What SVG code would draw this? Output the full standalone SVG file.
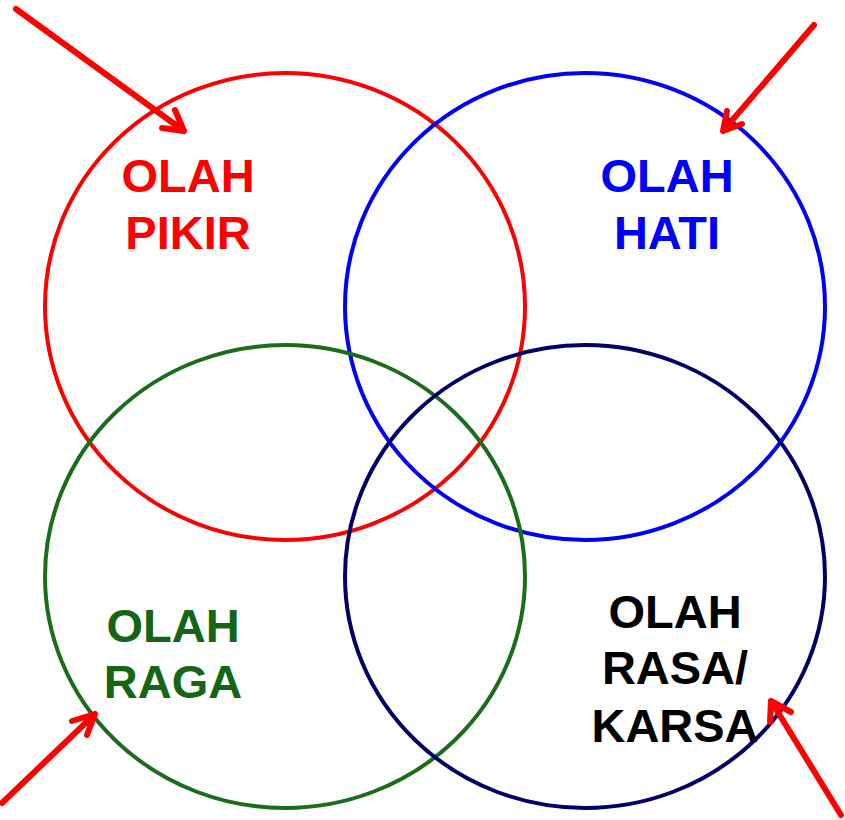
<svg xmlns="http://www.w3.org/2000/svg" width="845" height="820" viewBox="0 0 845 820">
<style>
.c{fill:none;stroke-width:4}
.t{font-family:"Liberation Sans",Arial,sans-serif;font-weight:bold;font-size:47px;text-anchor:middle}
.a{fill:none;stroke:#ff0000;stroke-width:6;stroke-linecap:round;stroke-linejoin:round}
</style>
<rect width="845" height="820" fill="#fff"/>
<g id="pikir">
<ellipse class="c" cx="285" cy="306.5" rx="240" ry="233.5" stroke="#ff0000"/>
<text class="t" fill="#ff0000"><tspan x="188" y="192">OLAH</tspan><tspan x="188" y="249">PIKIR</tspan></text>
</g>
<g id="hati">
<ellipse class="c" cx="585" cy="306.5" rx="240" ry="233.5" stroke="#0000ff"/>
<text class="t" fill="#0000ff"><tspan x="667" y="192">OLAH</tspan><tspan x="667" y="249">HATI</tspan></text>
</g>
<g id="raga">
<ellipse class="c" cx="285" cy="576.5" rx="240" ry="231.5" stroke="#1a6e1a"/>
<text class="t" fill="#146614"><tspan x="173" y="642">OLAH</tspan><tspan x="173" y="698">RAGA</tspan></text>
</g>
<g id="rasa">
<ellipse class="c" cx="585" cy="576.5" rx="240" ry="231.5" stroke="#000066"/>
<text class="t" fill="#000000"><tspan x="675" y="628">OLAH</tspan><tspan x="675" y="684">RASA/</tspan><tspan x="675" y="742">KARSA</tspan></text>
</g>
<g id="connectors">
<path class="a" d="M16,9 L184,131 M162,128 L184,131 L175,110"/>
<path class="a" d="M814,25 L723,131 M742,124 L723,131 L727,111"/>
<path class="a" d="M2,803 L95,714 M72,721 L95,714 L87,735"/>
<path class="a" d="M841,815 L771,701 M770,722 L771,701 L791,712"/>
</g>
</svg>
